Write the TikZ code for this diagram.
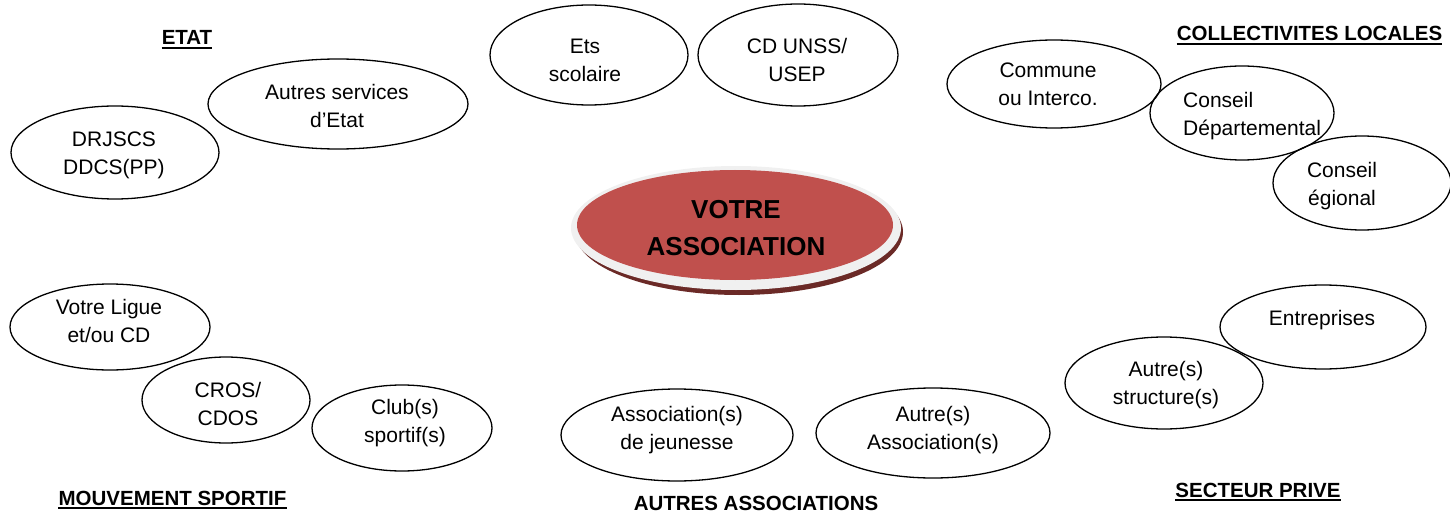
\documentclass[tikz,border=0pt]{standalone}
\usepackage{fontspec}
\setmainfont{Liberation Sans}
\usetikzlibrary{shapes.geometric}
\definecolor{assocred}{HTML}{C0504D}
\definecolor{assocshadow}{HTML}{6B2A27}
\definecolor{assocrim}{HTML}{F0F0F0}
\newcommand\txtfont{\fontsize{21}{28}\selectfont}
\newcommand\headfont{\fontsize{20.5}{24}\selectfont\bfseries}
\newcommand\centrefont{\fontsize{26}{37}\selectfont\bfseries}
\tikzset{
  bubble/.style 2 args={draw=black, line width=1.3pt, ellipse, inner sep=0pt,
    minimum width=#1pt, minimum height=#2pt},
  txt/.style={font=\txtfont, align=center, inner sep=0pt},
  head/.style={font=\headfont, inner sep=0pt, anchor=base},
  uline/.style={line width=1.8pt},
}
\begin{document}
\begin{tikzpicture}[x=1pt,y=-1pt]
\useasboundingbox (0,0) rectangle (1450,513);

% ---- centre ----
\node[ellipse, fill=assocshadow, inner sep=0pt, minimum width=328pt, minimum height=126pt] (cshadow) at (739,232) {};
\node[ellipse, fill=assocrim, inner sep=0pt, minimum width=330pt, minimum height=124pt] (crim) at (736,228) {};
\node[ellipse, fill=assocred, inner sep=0pt, minimum width=316pt, minimum height=110pt] (cred) at (735,225) {};
\node[font=\centrefont, align=center, inner sep=0pt] (ctext) at (736,228.5) {VOTRE\\ASSOCIATION};

% ---- ellipses ----
\node[bubble={208}{93}] (eDR) at (115,152.5) {};
\node[bubble={260}{90}] (eAS) at (338,104) {};
\node[bubble={198}{100}] (eEts) at (589,55) {};
\node[bubble={200}{102}] (eCD) at (798,55) {};
\node[bubble={214}{88}] (eCom) at (1054,84) {};
\node[bubble={184}{94}] (eDep) at (1242,113) {};
\node[bubble={178}{94}] (eReg) at (1362,183) {};
\node[bubble={200}{86}] (eLig) at (110,327) {};
\node[bubble={168}{86}] (eCros) at (226,400) {};
\node[bubble={180}{86}] (eClub) at (402,428) {};
\node[bubble={232}{92}] (eJeu) at (677,435) {};
\node[bubble={234}{90}] (eAut) at (933,433) {};
\node[bubble={198}{92}] (eStr) at (1164,383) {};
\node[bubble={206}{84}] (eEnt) at (1323,327) {};

% ---- texts ----
\node[txt] (tDR) at (114,155) {DRJSCS\\DDCS(PP)};
\node[txt] (tAS) at (337,106) {Autres services\\d’Etat};
\node[txt] (tEts) at (585,60) {Ets\\scolaire};
\node[txt] (tCD) at (797,60) {CD UNSS/\\USEP};
\node[txt] (tCom) at (1048,84) {Commune\\ou Interco.};
\node[txt, align=left, anchor=west] (tDep) at (1183,116) {Conseil\\Départemental};
\node[txt] (tReg) at (1342,186) {Conseil\\égional};
\node[txt] (tLig) at (109,321) {Votre Ligue\\et/ou CD};
\node[txt] (tCros) at (228,404) {CROS/\\CDOS};
\node[txt] (tClub) at (405,423) {Club(s)\\sportif(s)};
\node[txt] (tJeu) at (677,430) {Association(s)\\de jeunesse};
\node[txt] (tAut) at (933,430) {Autre(s)\\Association(s)};
\node[txt] (tStr) at (1166,385) {Autre(s)\\structure(s)};
\node[txt, anchor=base] (tEnt) at (1322,325) {Entreprises};

% ---- headings ----
\node[head] (hEtat) at (187,45) {ETAT};
\draw[uline] ([yshift=-3pt]hEtat.base west) -- ([yshift=-3pt]hEtat.base east);
\node[head] (hColl) at (1309.5,41) {COLLECTIVITES LOCALES};
\draw[uline] ([yshift=-3pt]hColl.base west) -- ([yshift=-3pt]hColl.base east);
\node[head] (hMouv) at (172.5,505) {MOUVEMENT SPORTIF};
\draw[uline] ([yshift=-3pt]hMouv.base west) -- ([yshift=-3pt]hMouv.base east);
\node[head] (hAut) at (756,510) {AUTRES ASSOCIATIONS};
\node[head] (hPriv) at (1258,497) {SECTEUR PRIVE};
\draw[uline] ([yshift=-3pt]hPriv.base west) -- ([yshift=-3pt]hPriv.base east);
\end{tikzpicture}
\end{document}
